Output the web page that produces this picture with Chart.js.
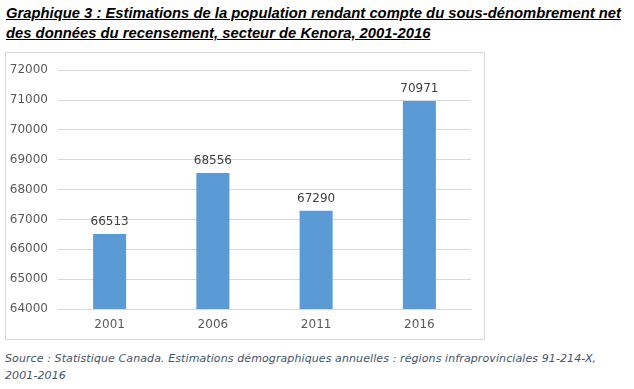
<!DOCTYPE html>
<html>
<head>
<meta charset="utf-8">
<script src="https://cdn.jsdelivr.net/npm/chart.js@4/dist/chart.umd.min.js"></script>
<style>
  body { margin: 0; background: #fff; width: 634px; height: 389px; position: relative; overflow: hidden; }
  #title {
    position: absolute; left: 6px; top: 3px; width: 628px; white-space: nowrap;
    font: italic bold 14.8px "Liberation Sans", sans-serif; line-height: 20px;
    text-decoration: underline; color: #000;
  }
  #box {
    position: absolute; left: 5px; top: 52px; width: 478px; height: 286px;
    border: 1px solid #d9d9d9;
  }
  #source {
    position: absolute; left: 5px; top: 350px; width: 629px; white-space: nowrap;
    font: italic 11px "DejaVu Sans", sans-serif; letter-spacing: 0.1px; line-height: 17px; color: #44546a;
  }
</style>
</head>
<body>
<div id="title">Graphique 3 : Estimations de la population rendant compte du sous-dénombrement net<br>des données du recensement, secteur de Kenora, 2001-2016</div>
<div id="box"><canvas id="chart" width="478" height="286"></canvas></div>
<div id="source">Source : Statistique Canada. Estimations démographiques annuelles : régions infraprovinciales 91-214-X,<br>2001-2016</div>
<script>
// données du graphique
const years = ['2001', '2006', '2011', '2016'];
const population = [66513, 68556, 67290, 70971];

// étiquettes de valeur au-dessus des barres
const valueLabels = {
    id: 'valueLabels',
    afterDatasetsDraw(chart) {
        const ctx = chart.ctx;
        const meta = chart.getDatasetMeta(0);
        ctx.save();
        ctx.font = '12px "DejaVu Sans", sans-serif';
        ctx.fillStyle = '#404040';
        ctx.textAlign = 'center';
        ctx.textBaseline = 'middle';
        meta.data.forEach((bar, i) => {
            ctx.fillText(String(population[i]), bar.x, bar.y - 12);
        });
        ctx.restore();
    }
};

new Chart(document.getElementById('chart'), {
    type: 'bar',
    data: {
        labels: years,
        datasets: [{
            data: population,
            backgroundColor: '#5b9bd5',
            barPercentage: 0.32,
            categoryPercentage: 1
        }]
    },
    options: {
        responsive: false,
        animation: false,
        layout: { padding: { top: 12, right: 13, left: 0, bottom: 0 } },
        plugins: { legend: { display: false }, tooltip: { enabled: false } },
        scales: {
            x: {
                grid: { display: false, drawTicks: false },
                border: { color: '#d9d9d9' },
                ticks: { color: '#595959', font: { size: 12, family: '"DejaVu Sans", sans-serif' }, padding: 9 },
                afterFit: (scale) => { scale.height = 30; }
            },
            y: {
                min: 64000,
                max: 72000,
                grid: { color: '#d9d9d9', drawTicks: false },
                border: { display: false },
                ticks: {
                    stepSize: 1000, color: '#595959', padding: 10,
                    font: { size: 12, family: '"DejaVu Sans", sans-serif' },
                    callback: (v) => String(v)
                },
                afterFit: (scale) => { scale.width = 52; }
            }
        }
    },
    plugins: [valueLabels]
});
</script>
</body>
</html>
